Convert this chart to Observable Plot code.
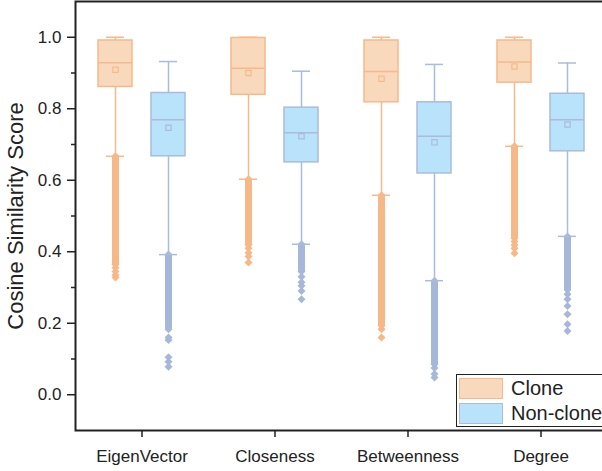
<!DOCTYPE html>
<html>
<head>
<meta charset="utf-8">
<script src="https://cdn.jsdelivr.net/npm/d3@7"></script>
<script src="https://cdn.jsdelivr.net/npm/@observablehq/plot@0.6"></script>
<style>
  body { margin: 0; background: #fff; overflow: hidden; }
  #wrap { position: relative; width: 602px; height: 471px; overflow: hidden; font-family: "Liberation Sans", Arial, sans-serif; }
  #wrap svg { display: block; max-width: none !important; width: 612px; height: 471px; }
  g[aria-label="y-axis label"] text { font-size: 22px; }
  #legend { position: absolute; left: 456px; top: 374px; width: 160px; height: 51px; border: 1.5px solid #222; background: #fff; box-sizing: content-box; }
  .lg-row { position: absolute; left: 2px; height: 22px; display: flex; align-items: center; }
  .lg-sw { width: 42px; height: 19px; border: 1.5px solid; margin-right: 8px; }
  .lg-tx { font-size: 20px; color: #222; }
</style>
</head>
<body>
<div id="wrap"></div>
<script>
const categories = ["EigenVector", "Closeness", "Betweenness", "Degree"];
const series = ["Clone", "Non-clone"];
const yTicks = [0, 0.2, 0.4, 0.6, 0.8, 1.0];
const yMinorTicks = [0.1, 0.3, 0.5, 0.7, 0.9];

// Clone statistics per category
const cloneMax      = [1.000, 1.000, 1.000, 1.000];
const cloneQ3       = [0.991, 0.998, 0.991, 0.991];
const cloneMedian   = [0.929, 0.913, 0.904, 0.931];
const cloneMean     = [0.909, 0.900, 0.884, 0.918];
const cloneQ1       = [0.861, 0.839, 0.818, 0.873];
const cloneMin      = [0.667, 0.603, 0.558, 0.695];
const cloneDenseEnd = [0.364, 0.419, 0.193, 0.438];
const cloneSparse   = [[0.370, 0.355, 0.345, 0.335, 0.328], [0.410, 0.397, 0.387, 0.370], [0.183, 0.160], [0.429, 0.419, 0.410, 0.396]];

// Non-clone statistics per category
const nonMax      = [0.932, 0.905, 0.924, 0.928];
const nonQ3       = [0.844, 0.803, 0.818, 0.842];
const nonMedian   = [0.769, 0.733, 0.723, 0.769];
const nonMean     = [0.747, 0.723, 0.706, 0.756];
const nonQ1       = [0.667, 0.650, 0.619, 0.681];
const nonMin      = [0.392, 0.421, 0.319, 0.443];
const nonDenseEnd = [0.183, 0.345, 0.085, 0.294];
const nonSparse   = [[0.160, 0.153, 0.105, 0.092, 0.078], [0.330, 0.315, 0.305, 0.290, 0.267], [0.075, 0.058, 0.048], [0.281, 0.267, 0.248, 0.225, 0.197, 0.178]];

const boxFill    = ["#f9d9bc", "#b9e2fb"];
const boxStroke  = ["#f6b98b", "#a9bcdc"];
const outlierCol = ["#f6b886", "#a6b7d9"];

const stats = [
  {max: cloneMax, q3: cloneQ3, med: cloneMedian, mean: cloneMean, q1: cloneQ1, min: cloneMin, dense: cloneDenseEnd, sparse: cloneSparse},
  {max: nonMax, q3: nonQ3, med: nonMedian, mean: nonMean, q1: nonQ1, min: nonMin, dense: nonDenseEnd, sparse: nonSparse}
];

const marks = [];
series.forEach((s, si) => {
  const st = stats[si];
  const rows = categories.map((c, i) => ({
    category: c, series: s,
    max: st.max[i], q3: st.q3[i], med: st.med[i], mean: st.mean[i],
    q1: st.q1[i], min: st.min[i], dense: st.dense[i]
  }));
  const pts = categories.flatMap((c, i) => st.sparse[i].map(v => ({category: c, series: s, value: v})));
  const col = boxStroke[si], oc = outlierCol[si];
  // dense outlier column
  marks.push(Plot.ruleX(rows, {fx: "category", x: "series", y1: "min", y2: "dense", stroke: oc, strokeWidth: 7}));
  marks.push(Plot.dot(rows, {fx: "category", x: "series", y: "min", symbol: "diamond2", r: 3.6, fill: oc}));
  marks.push(Plot.dot(rows, {fx: "category", x: "series", y: "dense", symbol: "diamond2", r: 3.6, fill: oc}));
  marks.push(Plot.dot(pts, {fx: "category", x: "series", y: "value", symbol: "diamond2", r: 3.6, fill: oc}));
  // whiskers
  marks.push(Plot.ruleX(rows, {fx: "category", x: "series", y1: "q3", y2: "max", stroke: col, strokeWidth: 1.5}));
  marks.push(Plot.ruleX(rows, {fx: "category", x: "series", y1: "min", y2: "q1", stroke: col, strokeWidth: 1.5}));
  marks.push(Plot.tickY(rows, {fx: "category", x: "series", y: "max", stroke: col, strokeWidth: 1.5, insetLeft: 8, insetRight: 8}));
  marks.push(Plot.tickY(rows, {fx: "category", x: "series", y: "min", stroke: col, strokeWidth: 1.5, insetLeft: 8, insetRight: 8}));
  // box
  marks.push(Plot.barY(rows, {fx: "category", x: "series", y1: "q1", y2: "q3", fill: boxFill[si], stroke: col, strokeWidth: 1.5}));
  marks.push(Plot.tickY(rows, {fx: "category", x: "series", y: "med", stroke: col, strokeWidth: 1.5}));
  marks.push(Plot.dot(rows, {fx: "category", x: "series", y: "mean", symbol: "square", r: 3, fill: "none", stroke: col, strokeWidth: 1.2}));
});

marks.push(Plot.frame({facet: "super", stroke: "#222", strokeWidth: 2}));
marks.push(Plot.axisY({ticks: yMinorTicks, tickSize: 4, tickFormat: () => "", label: null, stroke: "#222", strokeWidth: 1.5}));
marks.push(Plot.axisY({ticks: yTicks, tickSize: 8, tickPadding: 6, tickFormat: d3.format(".1f"), fontSize: 17, fill: "#222", stroke: "#222", strokeWidth: 1.5,
  label: "Cosine Similarity Score", labelArrow: "none", labelAnchor: "center", labelOffset: 68}));
marks.push(Plot.axisFx({anchor: "bottom", tickSize: 7, tickPadding: 12, fontSize: 17, fill: "#222", stroke: "#222", strokeWidth: 1.5, label: null}));

const chart = Plot.plot({
  width: 612,
  height: 471,
  marginTop: 1,
  marginBottom: 41,
  marginLeft: 74,
  marginRight: 4.5,
  style: {fontFamily: "'Liberation Sans', Arial, sans-serif", fontSize: "17px", color: "#222", background: "transparent"},
  fx: {domain: categories, padding: 0, label: null},
  x: {type: "band", domain: series, paddingInner: 0.361, paddingOuter: 0.4305, axis: null},
  y: {domain: [-0.1, 1.1], axis: null},
  marks
});

const wrap = document.getElementById("wrap");
wrap.appendChild(chart);

// Legend
const legend = document.createElement("div");
legend.id = "legend";
series.forEach((s, si) => {
  const row = document.createElement("div");
  row.className = "lg-row";
  row.style.top = (2 + si * 25) + "px";
  const sw = document.createElement("div");
  sw.className = "lg-sw";
  sw.style.background = boxFill[si];
  sw.style.borderColor = boxStroke[si];
  const tx = document.createElement("span");
  tx.className = "lg-tx";
  tx.textContent = s;
  row.appendChild(sw);
  row.appendChild(tx);
  legend.appendChild(row);
});
wrap.appendChild(legend);
</script>
</body>
</html>
